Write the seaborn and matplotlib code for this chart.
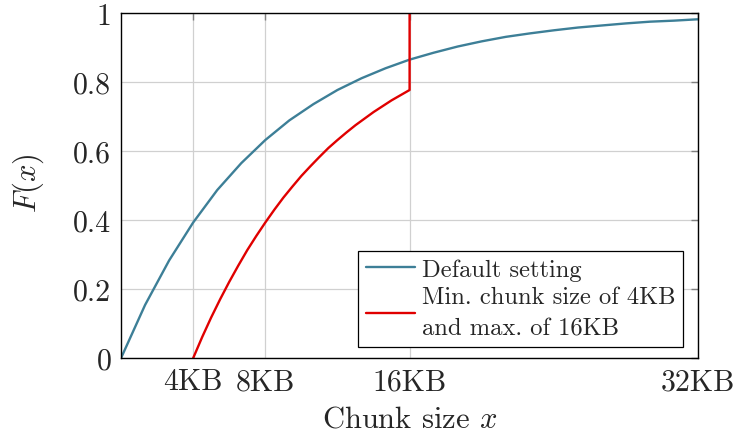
import numpy as np
import pandas as pd
import matplotlib
matplotlib.use("Agg")
import matplotlib.pyplot as plt
import seaborn as sns
from matplotlib.ticker import FixedLocator, FixedFormatter

# Default chunking: CDF sampled every 4/3 KB over 0..32 KB
default_x = [i * 4 / 3 for i in range(25)]
default_y = [0.000, 0.154, 0.283, 0.393, 0.487, 0.565, 0.632, 0.689, 0.736,
             0.777, 0.811, 0.840, 0.865, 0.885, 0.903, 0.918, 0.931, 0.941,
             0.950, 0.958, 0.964, 0.970, 0.975, 0.978, 0.982]

# Bounded chunking (min 4 KB, max 16 KB): CDF sampled every 0.5 KB, jump at 16 KB
bounded_x = [4.0, 4.5, 5.0, 5.5, 6.0, 6.5, 7.0, 7.5, 8.0, 8.5, 9.0, 9.5, 10.0,
             10.5, 11.0, 11.5, 12.0, 12.5, 13.0, 13.5, 14.0, 14.5, 15.0, 15.5,
             16.0, 16.0]
bounded_y = [0.000, 0.061, 0.118, 0.171, 0.221, 0.268, 0.313, 0.354, 0.393,
             0.430, 0.465, 0.497, 0.528, 0.556, 0.583, 0.609, 0.632, 0.654,
             0.675, 0.694, 0.713, 0.730, 0.747, 0.762, 0.777, 1.000]

series_labels = ["Default setting", "Min. chunk size of 4KB\nand max. of 16KB"]
x_ticks = [4, 8, 16, 32]
x_tick_labels = ["4KB", "8KB", "16KB", "32KB"]
y_ticks = [0, 0.2, 0.4, 0.6, 0.8, 1.0]
y_tick_labels = ["0", "0.2", "0.4", "0.6", "0.8", "1"]

sns.set_style("white")
plt.rcParams["font.family"] = ["cmr10", "DejaVu Serif"]
plt.rcParams["mathtext.fontset"] = "cm"
plt.rcParams["axes.formatter.use_mathtext"] = True

df_default = pd.DataFrame({"x": default_x, "y": default_y})
df_bounded = pd.DataFrame({"x": bounded_x, "y": bounded_y})

fig = plt.figure(figsize=(7.38, 4.39), dpi=100)
ax = fig.add_axes([0.164, 0.182, 0.782, 0.786])

sns.lineplot(data=df_default, x="x", y="y", ax=ax, color="#3d7f97", lw=1.7,
             estimator=None, sort=False, label=series_labels[0])
sns.lineplot(data=df_bounded, x="x", y="y", ax=ax, color="#e00000", lw=1.7,
             estimator=None, sort=False, label=series_labels[1])

ax.set_xlim(0, 32)
ax.set_ylim(0, 1)
ax.xaxis.set_major_locator(FixedLocator(x_ticks))
ax.xaxis.set_major_formatter(FixedFormatter(x_tick_labels))
ax.yaxis.set_major_locator(FixedLocator(y_ticks))
ax.yaxis.set_major_formatter(FixedFormatter(y_tick_labels))

ax.grid(True, color="#d0d0d0", lw=0.9)
ax.set_axisbelow(True)
ax.tick_params(axis="both", direction="in", length=5, width=1, color="#808080",
               labelsize=21.5, top=True, right=True, pad=7)
for s in ax.spines.values():
    s.set_color("black")
    s.set_linewidth(1.0)

ax.set_xlabel("Chunk size $x$", fontsize=22, va="center")
ax.xaxis.set_label_coords(0.5, -0.177)
ax.set_ylabel("$F(x)$", fontsize=22, va="center")
ax.yaxis.set_label_coords(-0.161, 0.51)

leg = ax.legend(loc="lower right", bbox_to_anchor=(0.974, 0.032), fontsize=17.7,
                frameon=True, fancybox=False, framealpha=1, edgecolor="black",
                handlelength=2.0, handletextpad=0.3, borderpad=0.3,
                labelspacing=0.2, borderaxespad=0)
for t in leg.get_texts():
    t.set_linespacing(1.55)
leg.get_frame().set_linewidth(0.9)

fig.savefig("out.png", dpi=100)
